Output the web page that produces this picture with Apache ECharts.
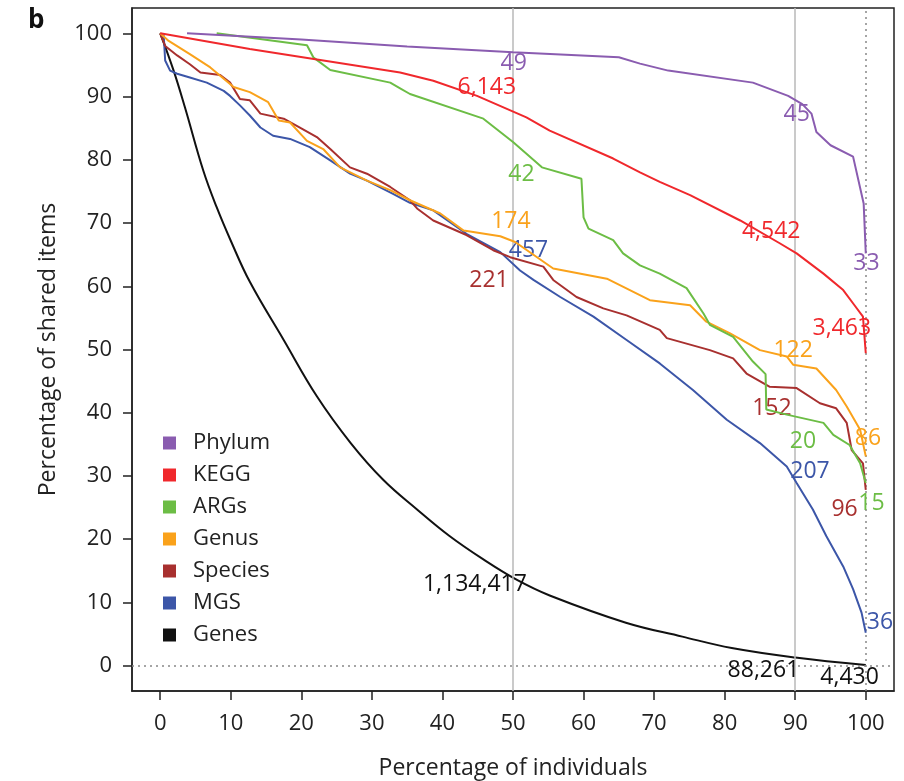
<!DOCTYPE html>
<html><head><meta charset="utf-8">
<script src="https://cdn.jsdelivr.net/npm/echarts@6/dist/echarts.min.js"></script>
<style>html,body{margin:0;padding:0;background:#fff}#c{width:904px;height:781px}</style>
</head><body><div id="c"></div>
<script>
const seriesNames = ['Phylum','KEGG','ARGs','Genus','Species','MGS','Genes'];
const tickValues = [0,10,20,30,40,50,60,70,80,90,100];

const phylumData = [[3.8,100],[20,99],[35,97.9],[50,97.0],[65,96.2],[68,95.2],[72,94.1],[84,92.2],[89,90.1],[91,88.8],[92.3,87.3],[93,84.4],[95,82.3],[98.2,80.5],[99.7,73.1],[100,65.2]];
const keggData = [[0,100],[12.7,97.5],[34,93.8],[38.7,92.5],[44.9,90.1],[51.9,86.7],[55.2,84.6],[64.2,80.2],[68,78.0],[70.8,76.5],[75.1,74.4],[82.2,70.4],[87.8,66.8],[90.2,65.2],[94,62.0],[96.8,59.4],[98.4,57.0],[99.6,55.2],[100,49.4]];
const argsData = [[8,100],[20.8,98.1],[21.7,96.2],[24.1,94.2],[32.6,92.2],[34,91.3],[35.4,90.4],[45.8,86.5],[50,82.8],[54.1,78.8],[59.7,77.0],[60,70.9],[60.7,69.1],[64.2,67.3],[65.6,65.2],[68,63.3],[70.8,62.0],[74.6,59.7],[77,55.7],[77.9,53.9],[81.2,52.0],[84,48.1],[85.8,46.1],[85.9,40.5],[88.8,39.7],[94,38.4],[95.4,36.5],[97.7,34.9],[99.2,32.0],[100,28.9]];
const genusData = [[0,100],[1.2,98.8],[4.2,96.7],[7.1,94.6],[10.4,91.5],[12.7,90.7],[15.3,89.1],[16.8,86.2],[18.4,85.9],[20.8,83.0],[23.1,81.7],[25.5,78.8],[29.3,76.7],[32.6,75.2],[35.4,73.6],[39.7,71.5],[43,68.8],[48.2,67.9],[50.3,67.0],[55.7,62.8],[63.3,61.2],[69.4,57.8],[75.1,57.0],[77.4,54.4],[80.7,52.6],[85,49.9],[88.8,48.9],[89.7,47.6],[93,47.0],[95.8,43.6],[97.3,41.0],[99.2,37.3],[100,33.1]];
const speciesData = [[0,100],[0.7,98.0],[2.4,96.5],[4.2,95.1],[5.7,93.8],[8.5,93.4],[9.9,92.2],[11.3,89.6],[12.7,89.4],[14.2,87.3],[17.5,86.5],[19.8,85.1],[22.2,83.6],[24.1,81.7],[26.9,78.8],[29.3,77.8],[32.6,75.7],[35.4,73.6],[36.4,72.3],[38.7,70.4],[43.4,68.1],[47.2,65.7],[49.6,64.6],[54.3,63.1],[55.7,61.0],[59,58.3],[62.8,56.5],[66.1,55.4],[70.8,53.1],[71.8,51.8],[77.9,49.9],[81.2,48.6],[83.1,46.2],[86.4,44.1],[90.2,43.9],[93.5,41.5],[95.8,40.7],[97.3,38.4],[98,34.1],[99.6,32.0],[100,27.8]];
const mgsData = [[0,100],[0.5,99.6],[0.7,95.7],[1.4,94.1],[2.4,93.6],[4.2,93.0],[6.6,92.2],[9,90.9],[9.9,90.1],[11.3,88.6],[12.7,87.0],[14.2,85.1],[16,83.8],[18.4,83.3],[21.2,82.0],[24.1,79.9],[26.9,77.8],[29.3,76.7],[33,74.6],[35.4,73.2],[38.7,72.0],[43.4,68.3],[48.2,65.4],[51,62.5],[52.9,61.0],[56.7,58.3],[61.4,55.2],[66.1,51.5],[70.8,47.8],[75.5,43.6],[80.3,38.9],[85,35.2],[88.8,31.5],[90.2,28.9],[92.5,24.7],[94.4,20.5],[96.8,15.7],[98.2,12.1],[99.4,8.4],[100,5.2]];
const genesData = [[0,100],[1.9,94.1],[3.5,88.3],[6.1,78.3],[8,72.5],[10,67.2],[12.7,60.7],[17.5,51.5],[22.2,42.6],[27,35.2],[31.6,29.4],[36.4,24.7],[41,20.5],[45.8,16.8],[50.5,13.6],[55.2,11.1],[66,6.8],[74,4.6],[81,2.8],[90,1.3],[100,0.1]];

const phylumLabels = [[50.1,95.2,'49'],[90.2,87.1,'45'],[100.1,63.6,'33']];
const keggLabels = [[46.3,91.5,'6,143'],[86.6,68.7,'4,542'],[96.6,53.3,'3,463']];
const argsLabels = [[51.2,77.7,'42'],[91.1,35.5,'20'],[100.8,25.7,'15']];
const genusLabels = [[49.7,70.2,'174'],[89.7,49.9,'122'],[100.3,36.0,'86']];
const speciesLabels = [[46.6,60.9,'221'],[86.7,40.7,'152'],[97.0,24.7,'96']];
const mgsLabels = [[52.2,65.7,'457'],[92.1,30.7,'207'],[102.0,6.8,'36']];
const genesLabels = [[44.6,12.9,'1,134,417'],[85.5,-0.8,'88,261'],[97.7,-1.9,'4,430']];

const colors = ['#8a5cb0','#f0282c','#6cbd45','#faa21b','#a8302f','#3c56a8','#111111'];
const allData = [phylumData,keggData,argsData,genusData,speciesData,mgsData,genesData];
const allLabels = [phylumLabels,keggLabels,argsLabels,genusLabels,speciesLabels,mgsLabels,genesLabels];

const FONT = 'Open Sans';
const chart = echarts.init(document.getElementById('c'), null, {renderer:'canvas'});

const series = seriesNames.map((n,i)=>({
  name:n, type:'line', data:allData[i], showSymbol:false, symbol:'none',
  smooth: n==='Genes' ? 0.4 : false,
  lineStyle:{color:colors[i], width:2}, itemStyle:{color:colors[i]},
  z: 10 - i,
  markPoint:{
    symbol:'circle', symbolSize:0, silent:true,
    label:{show:true, position:'inside', formatter:'{b}', color:colors[i], fontSize:23, fontFamily:FONT},
    data: allLabels[i].map(l=>({name:l[2], coord:[l[0],l[1]]}))
  }
}));

series.push({
  name:'refs', type:'line', data:[], silent:true,
  markLine:{
    symbol:'none', silent:true, label:{show:false},
    data:[
      {xAxis:50, lineStyle:{color:'#b8b8b8', width:1.5, type:'solid'}},
      {xAxis:90, lineStyle:{color:'#b8b8b8', width:1.5, type:'solid'}},
      {xAxis:100, lineStyle:{color:'#888', width:1.5, type:[2,4]}},
      {yAxis:0, lineStyle:{color:'#888', width:1.5, type:[2,4]}}
    ]
  }
});

chart.setOption({
  animation:false,
  title:{text:'b', left:23, top:3, textStyle:{fontFamily:FONT, fontSize:26, fontWeight:'bold', color:'#111'}},
  grid:{left:132, right:10, top:8, bottom:90, outerBoundsMode:'none', containLabel:false, show:true, borderColor:'#222', borderWidth:1.5, backgroundColor:'transparent'},
  legend:{
    data:seriesNames, orient:'vertical', left:158, top:427, icon:'rect', itemWidth:13, itemHeight:13, itemGap:10,
    textStyle:{fontFamily:FONT, fontSize:22, color:'#222', padding:[0,0,0,12]}
  },
  xAxis:{
    type:'value', min:-4, max:104,
    name:'Percentage of individuals', nameLocation:'middle', nameGap:66,
    nameTextStyle:{fontFamily:FONT, fontSize:23, color:'#222'},
    axisLine:{show:true, onZero:false, lineStyle:{color:'#222', width:1.5}},
    axisTick:{show:true, inside:false, length:9, lineStyle:{color:'#222', width:1.5}, customValues:tickValues},
    axisLabel:{fontFamily:FONT, fontSize:22, color:'#222', margin:22, customValues:tickValues},
    splitLine:{show:false}
  },
  yAxis:{
    type:'value', min:-4, max:104,
    name:'Percentage of shared items', nameLocation:'middle', nameGap:72, nameRotate:90,
    nameTextStyle:{fontFamily:FONT, fontSize:23, color:'#222'},
    axisLine:{show:true, onZero:false, lineStyle:{color:'#222', width:1.5}},
    axisTick:{show:true, inside:false, length:9, lineStyle:{color:'#222', width:1.5}, customValues:tickValues},
    axisLabel:{fontFamily:FONT, fontSize:22, color:'#222', margin:20, customValues:tickValues},
    splitLine:{show:false}
  },
  series:series
});
</script></body></html>
